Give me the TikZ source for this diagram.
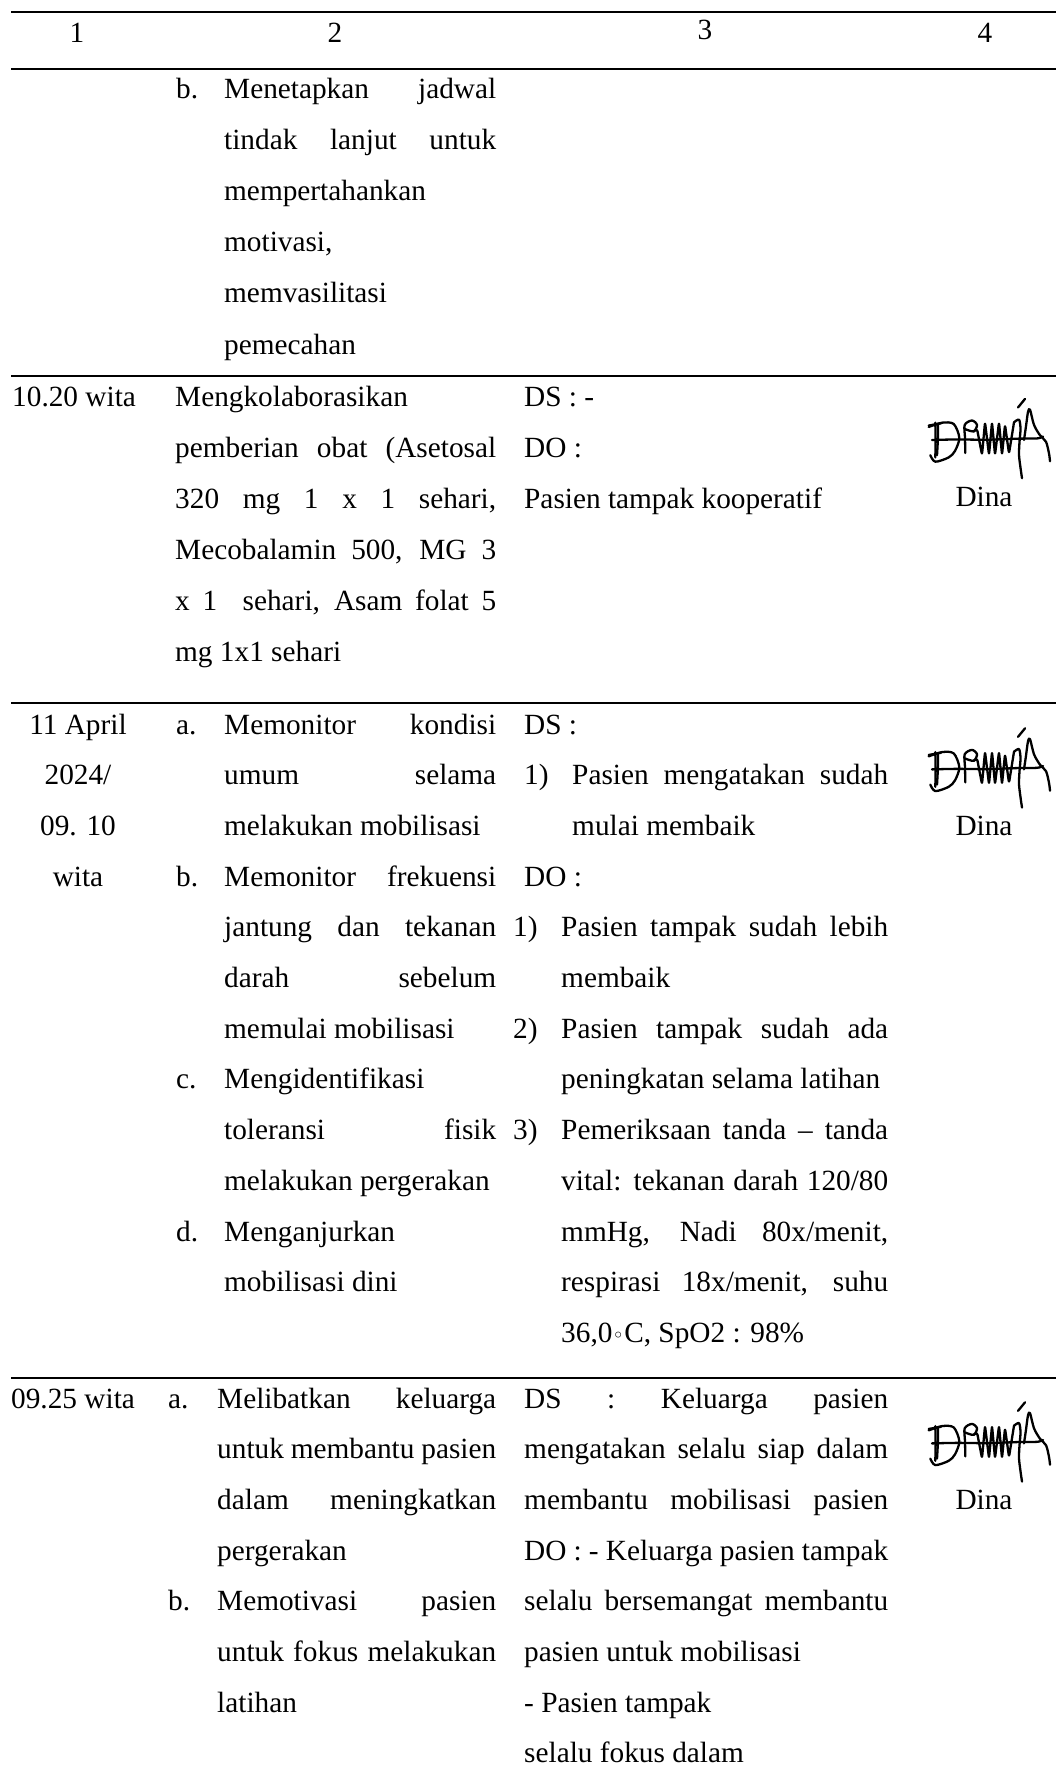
\documentclass[tikz,border=0pt]{standalone}
\usepackage{fontspec}
\setmainfont{Liberation Serif}
\newfontfamily\symf{DejaVu Sans}
\newcounter{ln}
\tikzset{
  txt/.style={anchor=base west, inner sep=0pt, font=\fontsize{29.3}{35}\selectfont},
  txtc/.style={anchor=base, inner sep=0pt, font=\fontsize{29.3}{35}\selectfont},
  rule/.style={line width=2.5pt, black},
  pen/.style={line width=2.3pt, line cap=round, line join=round, black}
}
\newcommand\txtN[3]{\stepcounter{ln}\node[txt] (t\theln) at (#1,#2) {#3};}
\newcommand\txtJ[4]{\stepcounter{ln}\node[txt] (t\theln) at (#1,#2) {\makebox[#3pt][s]{#4}};}
\newcommand\txtC[3]{\stepcounter{ln}\node[txtc] (t\theln) at (#1,#2) {#3};}
\newcommand\signat[2]{%
  \begin{scope}[shift={(#1+2,#2-11)}, xscale=1.0, yscale=1.3]
    % D stems and serif
    \draw[pen] plot[smooth] coordinates {(8.3,21.3) (8.6,35) (8.3,48)};
    \draw[pen] plot[smooth] coordinates {(11,23) (10.8,35) (10,46.3)};
    \draw[pen] (1.7,23.5) -- (14,21.8);
    % D bowl
    \draw[pen] plot[smooth] coordinates {(1.7,24.6) (15,21.3) (26.7,22.3) (32.3,33) (28,43) (21.7,48) (8.3,51.3) (3.3,46.3)};
    % strike through
    \draw[pen] plot[smooth] coordinates {(5,34.6) (30,34.2) (60,34.4) (90,33.6) (110,33.4) (116,32)};
    % P
    \draw[pen] plot[smooth] coordinates {(38.3,44.6) (38,33) (37.7,23) (45,19.6) (50,23) (46.7,28) (38.3,26.3)};
    % m zigzag
    \draw[pen, rounded corners=2.5pt] (46.7,28) -- (50,26) -- (55,46) -- (58,21) -- (62,46) -- (65,21) -- (68,46) -- (72,21) -- (75,46) -- (78,23) -- (82,45) -- (87,21);
    % y
    \draw[pen] plot[smooth] coordinates {(87,21) (92,19) (93.5,26) (92.5,36) (92,46) (93.5,56) (95,64)};
    % accent
    \draw[pen] (91,9.6) -- (98,3);
    % final stroke
    \draw[pen] plot[smooth] coordinates {(97,34.6) (99,24) (101,13) (103,11.3) (107,23) (113,31) (119,36) (122,45) (123,51)};
  \end{scope}}
\begin{document}
\begin{tikzpicture}[x=1pt, y=-1pt]
\useasboundingbox[fill=white] (0,0) rectangle (1056,1776);
% rules
\draw[rule] (11,12) -- (1056,12);
\draw[rule] (11,69) -- (1056,69);
\draw[rule] (11,376) -- (1056,376);
\draw[rule] (11,703) -- (1056,703);
\draw[rule] (11,1378) -- (1056,1378);
% header
\txtC{77}{43}{1}
\txtC{335}{43}{2}
\txtC{705}{40}{3}
\txtC{985}{43}{4}
% row 1
\txtN{176}{99}{b.}
\txtJ{224}{99}{272}{Menetapkan jadwal}
\txtJ{224}{150}{272}{tindak lanjut untuk}
\txtN{224}{201}{mempertahankan}
\txtN{224}{252}{motivasi,}
\txtN{224}{303}{memvasilitasi}
\txtN{224}{354}{pemecahan}
% row 2
\txtN{12}{406}{10.20 wita}
\txtN{175}{406}{Mengkolaborasikan}
\txtJ{175}{457}{321}{pemberian obat (Asetosal}
\txtJ{175}{508}{321}{320 mg 1 x 1 sehari,}
\txtJ{175}{559}{321}{Mecobalamin 500, MG 3}
\txtJ{175}{610}{321}{x 1\ \ sehari, Asam folat 5}
\txtN{175}{661}{mg 1x1 sehari}
\txtN{524}{406}{DS : -}
\txtN{524}{457}{DO :}
\txtN{524}{508}{Pasien tampak kooperatif}
\txtC{984}{506}{Dina}
\signat{925}{406}
% row 3
\txtC{78}{734}{11 April}
\txtC{78}{784.7}{2024/}
\txtC{78}{835.4}{09. 10}
\txtC{78}{886.1}{wita}
\txtN{176}{734}{a.}
\txtJ{224}{734}{272}{Memonitor kondisi}
\txtJ{224}{784.7}{272}{umum selama}
\txtN{224}{835.4}{melakukan mobilisasi}
\txtN{176}{886.1}{b.}
\txtJ{224}{886.1}{272}{Memonitor frekuensi}
\txtJ{224}{936.8}{272}{jantung dan tekanan}
\txtJ{224}{987.5}{272}{darah sebelum}
\txtN{224}{1038.2}{memulai mobilisasi}
\txtN{176}{1088.9}{c.}
\txtN{224}{1088.9}{Mengidentifikasi}
\txtJ{224}{1139.6}{272}{toleransi fisik}
\txtN{224}{1190.3}{melakukan pergerakan}
\txtN{176}{1241}{d.}
\txtN{224}{1241}{Menganjurkan}
\txtN{224}{1291.7}{mobilisasi dini}
\txtN{524}{734}{DS :}
\txtN{524}{784.7}{1)}
\txtJ{572}{784.7}{316}{Pasien mengatakan sudah}
\txtN{572}{835.4}{mulai membaik}
\txtN{524}{886.1}{DO :}
\txtN{513}{936.8}{1)}
\txtJ{561}{936.8}{327}{Pasien tampak sudah lebih}
\txtN{561}{987.5}{membaik}
\txtN{513}{1038.2}{2)}
\txtJ{561}{1038.2}{327}{Pasien tampak sudah ada}
\txtN{561}{1088.9}{peningkatan selama latihan}
\txtN{513}{1139.6}{3)}
\txtJ{561}{1139.6}{327}{Pemeriksaan tanda – tanda}
\txtJ{561}{1190.3}{327}{vital: tekanan darah 120/80}
\txtJ{561}{1241}{327}{mmHg, Nadi 80x/menit,}
\txtJ{561}{1291.7}{327}{respirasi 18x/menit, suhu}
\txtN{561}{1342.4}{36,0{\symf\fontsize{20}{24}\selectfont ◦}C, SpO2 : 98\%}
\txtC{984}{835.4}{Dina}
\signat{925}{735.4}
% row 4
\txtN{11}{1408}{09.25 wita}
\txtN{168}{1408}{a.}
\txtJ{217}{1408}{279}{Melibatkan keluarga}
\txtJ{217}{1458.7}{279}{untuk membantu pasien}
\txtJ{217}{1509.4}{279}{dalam meningkatkan}
\txtN{217}{1560.1}{pergerakan}
\txtN{168}{1610.8}{b.}
\txtJ{217}{1610.8}{279}{Memotivasi pasien}
\txtJ{217}{1661.5}{279}{untuk fokus melakukan}
\txtN{217}{1712.2}{latihan}
\txtJ{524}{1408}{364}{DS : Keluarga pasien}
\txtJ{524}{1458.7}{364}{mengatakan selalu siap dalam}
\txtJ{524}{1509.4}{364}{membantu mobilisasi pasien}
\txtJ{524}{1560.1}{364}{DO : - Keluarga pasien tampak}
\txtJ{524}{1610.8}{364}{selalu bersemangat membantu}
\txtN{524}{1661.5}{pasien untuk mobilisasi}
\txtN{524}{1712.2}{- Pasien tampak}
\txtN{524}{1762.9}{selalu fokus dalam}
\txtC{984}{1509.4}{Dina}
\signat{925}{1409.4}
\end{tikzpicture}
\end{document}
